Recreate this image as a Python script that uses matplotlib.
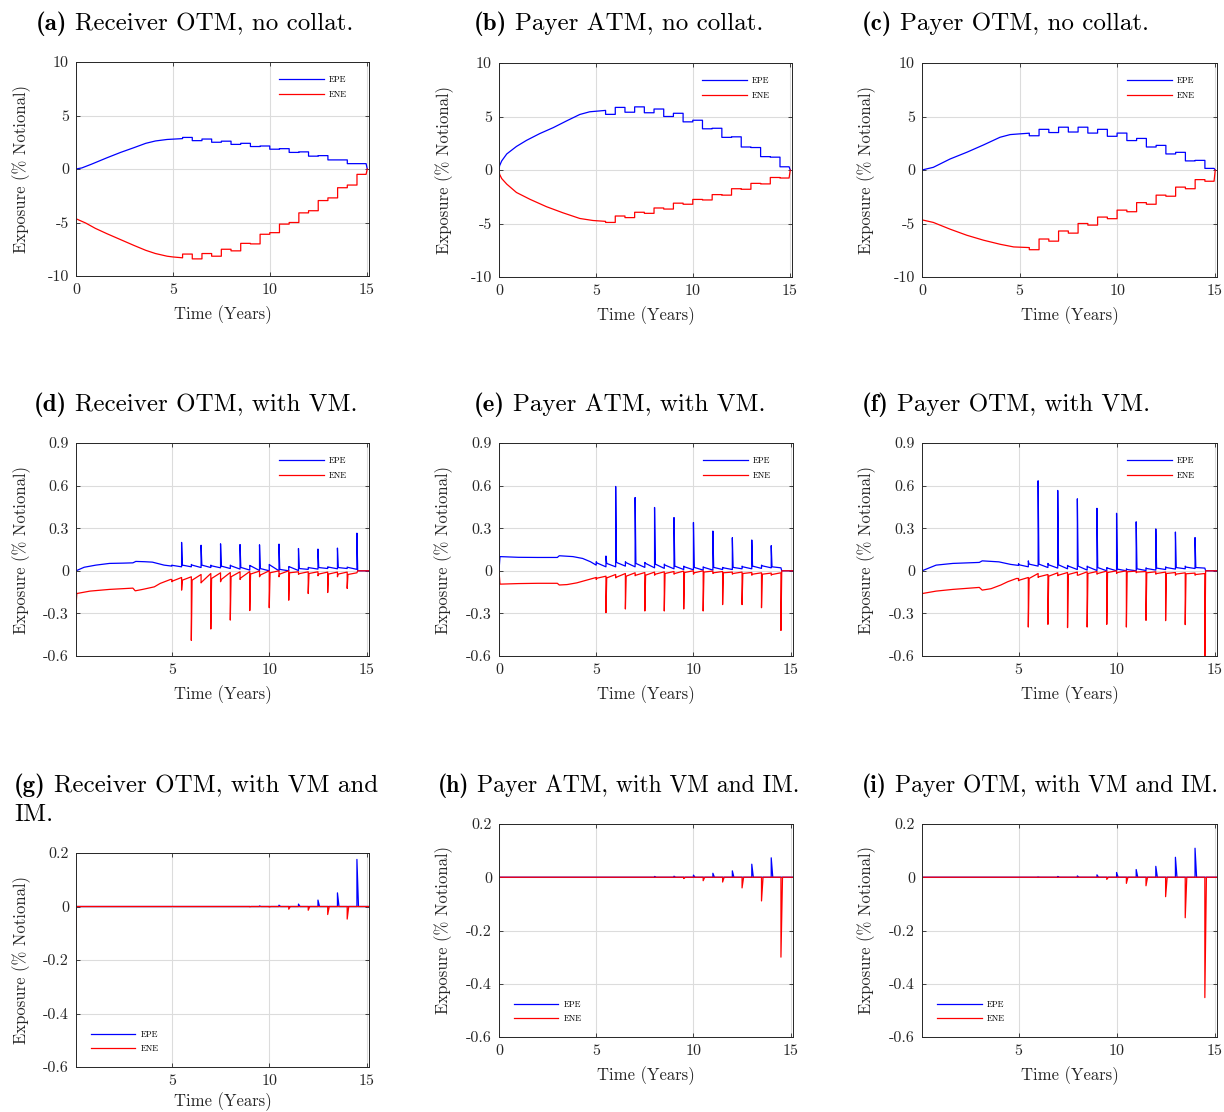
import numpy as np
import matplotlib.pyplot as plt

plt.rcParams['font.family'] = 'cmr10'
plt.rcParams['mathtext.fontset'] = 'cm'
plt.rcParams['axes.unicode_minus'] = False

# ---------------------------------------------------------------
# No collateral: smooth build-up until 5.5y, then half-yearly steps
# ---------------------------------------------------------------
step_dates = np.arange(5.5, 14.6, 0.5)

a_epe_t = [0, 0.3, 0.8, 1.6, 2.3, 3.0, 3.6, 4.1, 4.7, 5.5]
a_epe_v = [0, 0.1, 0.45, 1.05, 1.55, 2.0, 2.4, 2.62, 2.76, 2.84]
a_epe_steps = [2.95, 2.65, 2.8, 2.5, 2.6, 2.3, 2.4, 2.1, 2.15, 1.85,
               1.9, 1.55, 1.6, 1.2, 1.25, 0.85, 0.85, 0.5, 0.5]
a_ene_t = [0, 0.5, 1.0, 1.6, 2.3, 3.0, 3.6, 4.1, 4.7, 5.0, 5.5]
a_ene_v = [-4.65, -5.05, -5.55, -6.05, -6.6, -7.15, -7.6, -7.9, -8.15, -8.22, -8.3]
a_ene_steps = [-7.95, -8.4, -7.9, -8.15, -7.5, -7.65, -6.95, -7.0, -6.1, -5.95,
               -5.15, -5.0, -4.1, -3.9, -2.95, -2.7, -1.75, -1.5, -0.5]

b_epe_t = [0, 0.03, 0.14, 0.4, 0.9, 1.42, 2.1, 2.8, 3.5, 4.17, 4.68, 5.5]
b_epe_v = [0, 0.4, 0.85, 1.5, 2.2, 2.77, 3.4, 3.96, 4.6, 5.19, 5.44, 5.57]
b_epe_steps = [5.2, 5.85, 5.4, 5.9, 5.35, 5.7, 5.0, 5.3, 4.5, 4.65,
               3.85, 3.9, 3.05, 3.1, 2.15, 2.1, 1.25, 1.2, 0.3]
b_ene_t = [0, 0.03, 0.14, 0.4, 0.9, 1.6, 2.45, 3.3, 4.17, 4.85, 5.5]
b_ene_v = [0, -0.4, -0.8, -1.32, -2.1, -2.74, -3.43, -4.0, -4.53, -4.72, -4.8]
b_ene_steps = [-4.9, -4.3, -4.45, -3.95, -4.05, -3.55, -3.65, -3.1, -3.2, -2.75,
               -2.8, -2.3, -2.35, -1.75, -1.8, -1.25, -1.3, -0.7, -0.75]

c_epe_t = [0, 0.58, 1.44, 2.3, 3.15, 4.0, 4.52, 5.03, 5.5]
c_epe_v = [0, 0.25, 1.03, 1.66, 2.34, 3.06, 3.31, 3.38, 3.44]
c_epe_steps = [3.2, 3.8, 3.5, 4.0, 3.55, 4.0, 3.45, 3.8, 3.15, 3.45,
               2.75, 2.95, 2.15, 2.3, 1.5, 1.65, 0.85, 0.9, 0.15]
c_ene_t = [0, 0.58, 1.44, 2.3, 3.15, 4.0, 4.7, 5.5]
c_ene_v = [-4.66, -4.9, -5.53, -6.1, -6.56, -6.94, -7.19, -7.25]
c_ene_steps = [-7.45, -6.45, -6.65, -5.7, -5.9, -5.0, -5.15, -4.4, -4.55, -3.75,
               -3.9, -3.05, -3.2, -2.35, -2.45, -1.6, -1.75, -0.9, -1.05]

# ---------------------------------------------------------------
# Variation margin: level before each date, spike value, level right after
# ---------------------------------------------------------------
vm_dates = np.arange(5.0, 14.6, 0.5)

d_epe_t = [0.08, 0.5, 1.1, 1.8, 2.5, 3.0, 3.15, 3.6, 4.0, 4.6]
d_epe_v = [0, 0.025, 0.04, 0.052, 0.054, 0.056, 0.066, 0.064, 0.061, 0.04]
d_epe_before = [0.033, 0.028, 0.028, 0.023, 0.023, 0.021, 0.016, 0.012, 0.005, 0.002,
                0.0, 0.0, 0.0, 0.002, 0.01, 0.012, 0.016, 0.014, 0.016, 0.01]
d_epe_peak = [0.04, 0.2, 0.045, 0.18, 0.04, 0.19, 0.04, 0.185, 0.038, 0.183,
              0.045, 0.188, 0.03, 0.157, 0.024, 0.153, 0.028, 0.16, 0.026, 0.265]
d_epe_after = [0.038, 0.04, 0.04, 0.04, 0.035, 0.033, 0.035, 0.024, 0.035, 0.016,
               0.04, 0.01, 0.028, 0.016, 0.022, 0.023, 0.026, 0.023, 0.024, 0.0]
d_ene_t = [0.08, 0.12, 0.8, 1.8, 3.0, 3.12, 3.5, 4.1, 4.4, 4.93]
d_ene_v = [-0.254, -0.16, -0.143, -0.131, -0.122, -0.141, -0.131, -0.113, -0.089, -0.061]
d_ene_before = [-0.061, -0.047, -0.042, -0.026, -0.019, -0.014, -0.012, -0.007, -0.005, -0.002,
                0.0, 0.0, 0.0, -0.007, -0.007, -0.007, -0.009, -0.009, -0.009, -0.014]
d_ene_peak = [-0.077, -0.136, -0.49, -0.085, -0.41, -0.077, -0.347, -0.061, -0.28, -0.042,
              -0.26, -0.042, -0.207, -0.025, -0.16, -0.035, -0.153, -0.042, -0.124, -0.014]
d_ene_after = [-0.072, -0.066, -0.066, -0.078, -0.054, -0.061, -0.042, -0.05, -0.023, -0.03,
               -0.014, -0.023, -0.014, -0.02, -0.019, -0.023, -0.023, -0.023, -0.026, 0.0]

e_epe_t = [0, 0.05, 1.0, 2.0, 3.0, 3.1, 3.8, 4.3, 4.7]
e_epe_v = [0, 0.1, 0.095, 0.094, 0.094, 0.106, 0.1, 0.087, 0.064]
e_epe_before = [0.04, 0.028, 0.028, 0.033, 0.028, 0.024, 0.021, 0.017, 0.014, 0.009,
                0.007, 0.005, 0.005, 0.009, 0.009, 0.014, 0.014, 0.017, 0.021, 0.021]
e_epe_peak = [0.064, 0.104, 0.594, 0.064, 0.516, 0.059, 0.446, 0.047, 0.375, 0.033,
              0.34, 0.028, 0.28, 0.024, 0.233, 0.033, 0.217, 0.04, 0.177, 0.021]
e_epe_after = [0.055, 0.052, 0.059, 0.057, 0.052, 0.052, 0.047, 0.04, 0.033, 0.028,
               0.024, 0.024, 0.024, 0.021, 0.024, 0.028, 0.033, 0.035, 0.028, 0.0]
e_ene_t = [0, 0.05, 1.0, 2.0, 3.0, 3.1, 3.5, 4.0, 4.5]
e_ene_v = [0, -0.094, -0.09, -0.088, -0.088, -0.1, -0.097, -0.085, -0.066]
e_ene_before = [-0.047, -0.038, -0.026, -0.019, -0.014, -0.012, -0.009, -0.007, -0.005, -0.002,
                0.0, 0.0, -0.002, -0.005, -0.009, -0.009, -0.012, -0.014, -0.016, -0.014]
e_ene_peak = [-0.061, -0.295, -0.05, -0.269, -0.035, -0.283, -0.031, -0.283, -0.024, -0.269,
              -0.024, -0.283, -0.019, -0.238, -0.024, -0.238, -0.031, -0.26, -0.031, -0.42]
e_ene_after = [-0.052, -0.05, -0.045, -0.038, -0.031, -0.031, -0.024, -0.019, -0.019, -0.012,
               -0.014, -0.009, -0.014, -0.014, -0.019, -0.019, -0.024, -0.024, -0.026, 0.0]

f_epe_t = [0.08, 0.8, 1.65, 3.0, 3.15, 4.0, 4.6]
f_epe_v = [0, 0.04, 0.052, 0.059, 0.07, 0.063, 0.045]
f_epe_before = [0.038, 0.028, 0.033, 0.023, 0.019, 0.014, 0.009, 0.005, 0.002, 0.0,
                0.0, 0.0, 0.0, 0.002, 0.005, 0.009, 0.012, 0.014, 0.016, 0.019]
f_epe_peak = [0.05, 0.07, 0.634, 0.052, 0.566, 0.038, 0.507, 0.033, 0.44, 0.023,
              0.405, 0.014, 0.345, 0.021, 0.295, 0.028, 0.273, 0.033, 0.234, 0.019]
f_epe_after = [0.042, 0.047, 0.047, 0.042, 0.042, 0.033, 0.033, 0.028, 0.023, 0.019,
               0.012, 0.009, 0.014, 0.016, 0.019, 0.023, 0.023, 0.026, 0.023, 0.0]
f_ene_t = [0.08, 0.1, 0.8, 1.65, 3.0, 3.15, 3.6, 4.1, 4.45, 4.9]
f_ene_v = [-0.258, -0.16, -0.143, -0.131, -0.117, -0.136, -0.126, -0.1, -0.077, -0.054]
f_ene_before = [-0.054, -0.047, -0.019, -0.026, -0.014, -0.012, -0.009, -0.007, -0.005, -0.002,
                0.0, 0.0, -0.002, -0.005, -0.007, -0.009, -0.012, -0.014, -0.016, -0.019]
f_ene_peak = [-0.07, -0.396, -0.047, -0.377, -0.035, -0.4, -0.031, -0.396, -0.024, -0.377,
              -0.019, -0.396, -0.014, -0.349, -0.024, -0.351, -0.031, -0.379, -0.031, -0.61]
f_ene_after = [-0.066, -0.054, -0.042, -0.038, -0.031, -0.026, -0.031, -0.019, -0.019, -0.012,
               -0.012, -0.007, -0.009, -0.014, -0.019, -0.019, -0.023, -0.021, -0.026, 0.0]

# ---------------------------------------------------------------
# VM + IM: flat at zero apart from spikes on the payment dates
# ---------------------------------------------------------------
g_epe_dates = [9.5, 10.5, 11.5, 12.5, 13.5, 14.5]
g_epe_peak = [0.002, 0.005, 0.009, 0.024, 0.051, 0.176]
g_ene_dates = [9.0, 10.0, 11.0, 12.0, 13.0, 14.0]
g_ene_peak = [-0.001, -0.002, -0.01, -0.014, -0.03, -0.047]
g_ene_start = -0.1

h_epe_dates = [8, 9, 10, 11, 12, 13, 14]
h_epe_peak = [0.003, 0.004, 0.008, 0.015, 0.024, 0.049, 0.073]
h_ene_dates = [9.5, 10.5, 11.5, 12.5, 13.5, 14.5]
h_ene_peak = [-0.005, -0.013, -0.018, -0.04, -0.089, -0.30]
h_ene_start = 0.0

i_epe_dates = [6, 7, 8, 9, 10, 11, 12, 13, 14]
i_epe_peak = [0.001, 0.003, 0.005, 0.009, 0.018, 0.029, 0.041, 0.075, 0.109]
i_ene_dates = [9.5, 10.5, 11.5, 12.5, 13.5, 14.5]
i_ene_peak = [-0.008, -0.023, -0.032, -0.073, -0.152, -0.452]
i_ene_start = -0.104


def step_path(kt, kv, levels, stop=14.97, end=15.03):
    xs = np.repeat(np.append(step_dates, stop), 2)[1:-1]
    ys = np.repeat(levels, 2)
    return np.concatenate([kt, xs, [end]]), np.concatenate([kv, ys, [0.0]])


def spike_path(kt, kv, dates, before, peak, after, dt, end=15.12):
    xs, ys = list(kt), list(kv)
    for t, b, p, a in zip(dates, before, peak, after):
        xs += [t, t, t + dt]
        ys += [b, p, a]
    xs.append(end)
    ys.append(0.0)
    return xs, ys


W, H = 1224, 1112
fig = plt.figure(figsize=(W / 100, H / 100), dpi=100)
renderer = fig.canvas.get_renderer()

BLUE, RED = '#0000ff', '#ff0000'
INK = '#262626'


def make_axes(box, xmin, yticks, xpad=6):
    l, t, r, b = box
    ax = fig.add_axes([l / W, 1 - b / H, (r - l) / W, (b - t) / H])
    ax.set_xticks([0, 5, 10, 15])
    ax.set_xticklabels(['0', '5', '10', '15'])
    ax.set_yticks(yticks)
    ax.set_yticklabels(['%g' % round(v, 2) for v in yticks])
    ax.set_xlim(xmin, 15.12)
    ax.set_ylim(yticks[0], yticks[-1])
    ax.grid(True, color='#dcdcdc', lw=0.8)
    ax.set_axisbelow(True)
    ax.tick_params(direction='in', top=True, right=True, length=3, width=0.6,
                   colors=INK, labelsize=11.5, pad=5)
    for s in ax.spines.values():
        s.set_color(INK)
        s.set_linewidth(0.7)
    ax.set_xlabel('Time (Years)', fontsize=12, color=INK, labelpad=xpad)
    ax.set_ylabel('Exposure (% Notional)', fontsize=12, color=INK)
    ax.yaxis.set_label_coords(-0.155, 0.5)
    return ax


def add_legend(ax, lines, loc):
    if loc == 'upper right':
        anchor = (0.925, 0.935)
    else:
        anchor = (0.05, 0.065)
    ax.legend(lines, ['EPE', 'ENE'], loc=loc, bbox_to_anchor=anchor, frameon=False,
              fontsize=6.2, handlelength=5.2, handletextpad=0.6, labelspacing=0.7,
              borderpad=0, borderaxespad=0)


def put_title(x, y, tag, text, size=18):
    tb = fig.text(x / W, 1 - y / H, tag, fontfamily='cmb10', fontsize=size,
                  va='baseline', ha='left')
    bb = tb.get_window_extent(renderer)
    fig.text((bb.x1 + 0.45 * size) / W, 1 - y / H, text, fontfamily='cmr10',
             fontsize=size, va='baseline', ha='left')


row1_ticks = [-10, -5, 0, 5, 10]
row2_ticks = [-0.6, -0.3, 0, 0.3, 0.6, 0.9]
row3_ticks = [-0.6, -0.4, -0.2, 0, 0.2]

# row 1: no collateral
row1 = [
    ((76, 62, 369, 276), (36, 30), '(a)', 'Receiver OTM, no collat.',
     (a_epe_t, a_epe_v, a_epe_steps), (a_ene_t, a_ene_v, a_ene_steps)),
    ((499, 63, 792, 277), (474, 30), '(b)', 'Payer ATM, no collat.',
     (b_epe_t, b_epe_v, b_epe_steps), (b_ene_t, b_ene_v, b_ene_steps)),
    ((922, 63, 1217, 277), (862, 30), '(c)', 'Payer OTM, no collat.',
     (c_epe_t, c_epe_v, c_epe_steps), (c_ene_t, c_ene_v, c_ene_steps)),
]
for box, tpos, tag, text, epe, ene in row1:
    ax = make_axes(box, 0, row1_ticks)
    l1, = ax.plot(*step_path(*epe), color=BLUE, lw=0.9)
    l2, = ax.plot(*step_path(*ene), color=RED, lw=0.9)
    add_legend(ax, [l1, l2], 'upper right')
    put_title(*tpos, tag, text)

# row 2: variation margin
row2 = [
    ((76, 443, 369, 656), (34, 411), '(d)', 'Receiver OTM, with VM.', 0.08,
     (d_epe_t, d_epe_v, vm_dates, d_epe_before, d_epe_peak, d_epe_after),
     (d_ene_t, d_ene_v, vm_dates, d_ene_before, d_ene_peak, d_ene_after)),
    ((499, 443, 793, 656), (474, 411), '(e)', 'Payer ATM, with VM.', 0,
     (e_epe_t, e_epe_v, vm_dates, e_epe_before, e_epe_peak, e_epe_after),
     (e_ene_t, e_ene_v, vm_dates, e_ene_before, e_ene_peak, e_ene_after)),
    ((922, 443, 1217, 656), (862, 411), '(f)', 'Payer OTM, with VM.', 0.08,
     (f_epe_t, f_epe_v, vm_dates, f_epe_before, f_epe_peak, f_epe_after),
     (f_ene_t, f_ene_v, vm_dates, f_ene_before, f_ene_peak, f_ene_after)),
]
for box, tpos, tag, text, xmin, epe, ene in row2:
    ax = make_axes(box, xmin, row2_ticks)
    l1, = ax.plot(*spike_path(*epe, dt=0.04), color=BLUE, lw=0.9)
    l2, = ax.plot(*spike_path(*ene, dt=0.04), color=RED, lw=0.9)
    add_legend(ax, [l1, l2], 'upper right')
    put_title(*tpos, tag, text)

# row 3: variation and initial margin
row3 = [
    ((76, 853, 369, 1067), (14, 792), '(g)', 'Receiver OTM, with VM and', 0.08, 18, 3,
     (g_epe_dates, g_epe_peak), (g_ene_dates, g_ene_peak), g_ene_start),
    ((499, 824, 793, 1037), (438, 792), '(h)', 'Payer ATM, with VM and IM.', 0, 17, 6,
     (h_epe_dates, h_epe_peak), (h_ene_dates, h_ene_peak), h_ene_start),
    ((922, 824, 1217, 1037), (862, 792), '(i)', 'Payer OTM, with VM and IM.', 0.08, 17, 6,
     (i_epe_dates, i_epe_peak), (i_ene_dates, i_ene_peak), i_ene_start),
]
for box, tpos, tag, text, xmin, tsize, xpad, epe, ene, start in row3:
    ax = make_axes(box, xmin, row3_ticks, xpad)
    dates, peak = epe
    zeros = np.zeros(len(dates))
    l1, = ax.plot(*spike_path([xmin], [0.0], dates, zeros, peak, zeros, dt=0.08),
                  color=BLUE, lw=0.9)
    dates, peak = ene
    zeros = np.zeros(len(dates))
    l2, = ax.plot(*spike_path([xmin, xmin + 0.02], [start, 0.0], dates, zeros, peak,
                              zeros, dt=0.08), color=RED, lw=0.9)
    add_legend(ax, [l1, l2], 'lower left')
    put_title(*tpos, tag, text, tsize)
    if tag == '(g)':
        fig.text(14 / W, 1 - 821 / H, 'IM.', fontfamily='cmr10', fontsize=tsize,
                 va='baseline', ha='left')

fig.savefig('out.png', dpi=100)
